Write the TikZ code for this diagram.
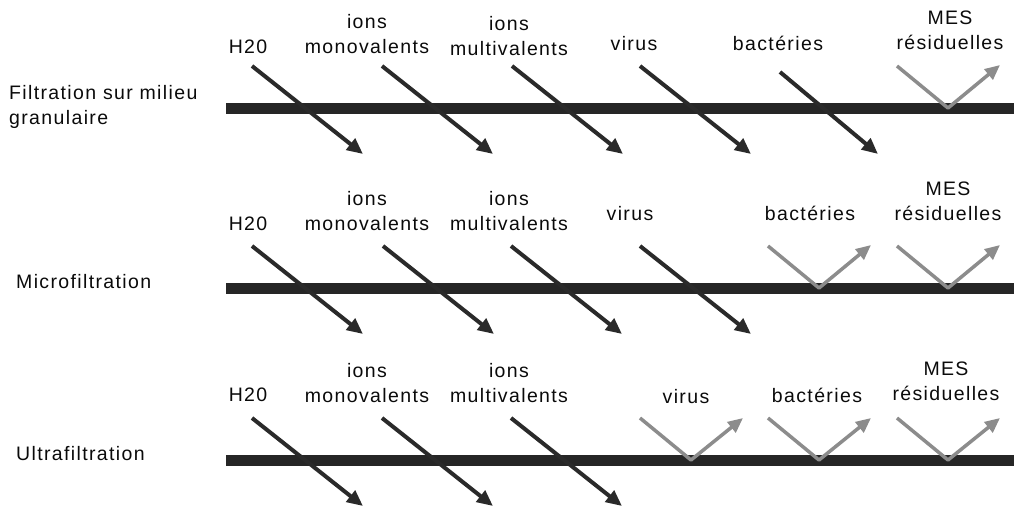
\documentclass[tikz,border=0pt]{standalone}
\usepackage{fontspec}
\setmainfont{Liberation Sans}[LetterSpace=7]
\usetikzlibrary{arrows.meta}
\definecolor{barc}{HTML}{262626}
\definecolor{arrc}{HTML}{2A2A2A}
\definecolor{grayc}{HTML}{8C8C8C}
\definecolor{txt}{HTML}{0A0A0A}
\begin{document}
\begin{tikzpicture}[x=1pt,y=-1pt,
  lab/.style={font=\fontsize{19.5}{25}\selectfont, text=txt, inner sep=0pt, align=center},
  side/.style={font=\fontsize{19.5}{25}\selectfont, text=txt, inner sep=0pt, align=left},
  membrane/.style={line width=11pt, draw=barc},
  passe/.style={line width=4pt, draw=arrc, -{Triangle[length=16pt,width=14pt]}},
  retenu/.style={line width=3.5pt, draw=grayc, line join=round, -{Triangle[length=15pt,width=13pt]}}]
\useasboundingbox (0,0) rectangle (1014,506);

% ---------- side labels ----------
\node[side, anchor=north west] (l1) at (9,85) {Filtration sur milieu\\granulaire};
\node[side, anchor=base west] (l2) at (16,288) {Microfiltration};
\node[side, anchor=base west] (l3) at (16,460) {Ultrafiltration};

% ---------- membranes ----------
\foreach \yb/\r in {108/1, 288/2, 460/3} {
  \coordinate (m\r a) at (226,\yb);
  \coordinate (m\r b) at (1014,\yb);
  \draw[membrane] (m\r a) -- (m\r b);
}

% ---------- row 1 ----------
\node[lab, anchor=base] (t1a) at (248,53) {H20};
\node[lab, anchor=north] (t1b) at (367,14) {ions\\monovalents};
\node[lab, anchor=north] (t1c) at (509,16) {ions\\multivalents};
\node[lab, anchor=base] (t1d) at (634,50) {virus};
\node[lab, anchor=base] (t1e) at (778,50) {bactéries};
\node[lab, anchor=north] (t1f) at (950,11) {MES\\résiduelles};
\foreach \x [count=\i] in {252,382,512,640} {
  \coordinate (s1\i) at (\x,66);
  \coordinate (e1\i) at (\x+111,154);
  \draw[passe] (s1\i) -- (e1\i);
}
\coordinate (s15) at (780,72);
\coordinate (e15) at (878,154);
\draw[passe] (s15) -- (e15);
\coordinate (s16) at (897,66);
\coordinate (v16) at (948,108);
\coordinate (e16) at (1000,65);
\draw[retenu] (s16) -- (v16) -- (e16);

% ---------- row 2 ----------
\node[lab, anchor=base] (t2a) at (248,230) {H20};
\node[lab, anchor=north] (t2b) at (367,191) {ions\\monovalents};
\node[lab, anchor=north] (t2c) at (509,191) {ions\\multivalents};
\node[lab, anchor=base] (t2d) at (630,220) {virus};
\node[lab, anchor=base] (t2e) at (810,220) {bactéries};
\node[lab, anchor=north] (t2f) at (948,182) {MES\\résiduelles};
\foreach \x [count=\i] in {252,383,511,640} {
  \coordinate (s2\i) at (\x,246);
  \coordinate (e2\i) at (\x+111,334);
  \draw[passe] (s2\i) -- (e2\i);
}
\foreach \x [count=\i from 5] in {768,897} {
  \coordinate (s2\i) at (\x,246);
  \coordinate (v2\i) at (\x+51,288);
  \coordinate (e2\i) at (\x+103,245);
  \draw[retenu] (s2\i) -- (v2\i) -- (e2\i);
}

% ---------- row 3 ----------
\node[lab, anchor=base] (t3a) at (248,401) {H20};
\node[lab, anchor=north] (t3b) at (367,363) {ions\\monovalents};
\node[lab, anchor=north] (t3c) at (509,363) {ions\\multivalents};
\node[lab, anchor=base] (t3d) at (686,403) {virus};
\node[lab, anchor=base] (t3e) at (817,402) {bactéries};
\node[lab, anchor=north] (t3f) at (946,362) {MES\\résiduelles};
\foreach \x [count=\i] in {252,382,511} {
  \coordinate (s3\i) at (\x,418);
  \coordinate (e3\i) at (\x+111,506);
  \draw[passe] (s3\i) -- (e3\i);
}
\foreach \x [count=\i from 4] in {640,768,897} {
  \coordinate (s3\i) at (\x,418);
  \coordinate (v3\i) at (\x+51,460);
  \coordinate (e3\i) at (\x+103,418);
  \draw[retenu] (s3\i) -- (v3\i) -- (e3\i);
}
\end{tikzpicture}
\end{document}
